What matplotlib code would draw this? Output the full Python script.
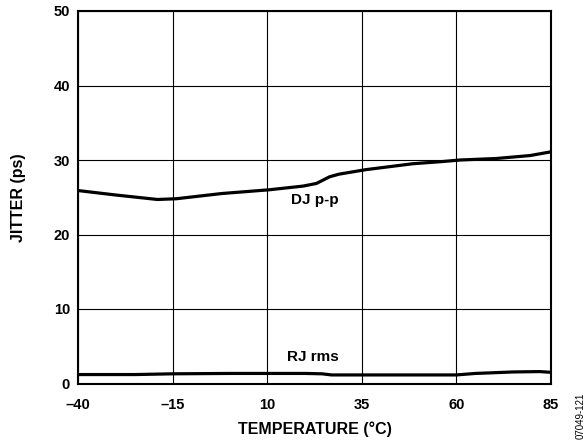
import matplotlib
matplotlib.use("Agg")
import matplotlib.pyplot as plt

plt.rcParams['font.family'] = ['Liberation Sans', 'DejaVu Sans']

# DJ p-p data (ps)
dj_temp = [-40, -30, -19, -14, -2, 10.5, 19.5, 23, 26.5, 29, 36, 48.5, 56.5, 61, 70.5, 79.5, 85]
dj_jitter = [25.9, 25.3, 24.7, 24.8, 25.5, 26.0, 26.5, 26.85, 27.75, 28.1, 28.7, 29.5, 29.8, 30.0, 30.2, 30.6, 31.1]

# RJ rms data (ps)
rj_temp = [-40, -25, -15, 0, 10, 20, 24.5, 27, 35, 50, 60, 65, 75, 82, 85]
rj_jitter = [1.2, 1.2, 1.3, 1.35, 1.35, 1.35, 1.3, 1.15, 1.15, 1.15, 1.15, 1.35, 1.55, 1.6, 1.5]

x_ticks = [-40, -15, 10, 35, 60, 85]
x_ticklabels = ['\u201340', '\u201315', '10', '35', '60', '85']
y_ticks = [0, 10, 20, 30, 40, 50]

fig = plt.figure(figsize=(5.87, 4.43), dpi=100)
ax = fig.add_axes([78/587, 1-383.5/443, (551-78)/587, (383.5-11)/443])

ax.plot(dj_temp, dj_jitter, color='black', lw=2.3, solid_capstyle='butt')
ax.plot(rj_temp, rj_jitter, color='black', lw=2.3, solid_capstyle='butt')

ax.set_xlim(-40, 85)
ax.set_ylim(0, 50)
ax.set_xticks(x_ticks)
ax.set_xticklabels(x_ticklabels)
ax.set_yticks(y_ticks)
ax.grid(True, color='black', lw=0.8)
ax.tick_params(length=0, labelsize=10.5)
ax.tick_params(axis='x', pad=10.5)
ax.tick_params(axis='y', pad=5.8)
for lab in ax.get_xticklabels() + ax.get_yticklabels():
    lab.set_fontweight('bold')
for s in ax.spines.values():
    s.set_linewidth(1.5)

ax.set_xlabel('TEMPERATURE (\u00b0C)', fontsize=11.5, fontweight='bold', labelpad=7)
ax.set_ylabel('JITTER (ps)', fontsize=11.5, fontweight='bold', labelpad=20)

ax.text(22.5, 24.6, 'DJ p-p', fontsize=11, fontweight='bold', ha='center', va='center')
ax.text(22.2, 3.5, 'RJ rms', fontsize=11, fontweight='bold', ha='center', va='center')

fig.text(581/587, 1-416/443, '07049-121', fontsize=7, rotation=90, ha='center', va='center')

fig.savefig('out.png', dpi=100)
